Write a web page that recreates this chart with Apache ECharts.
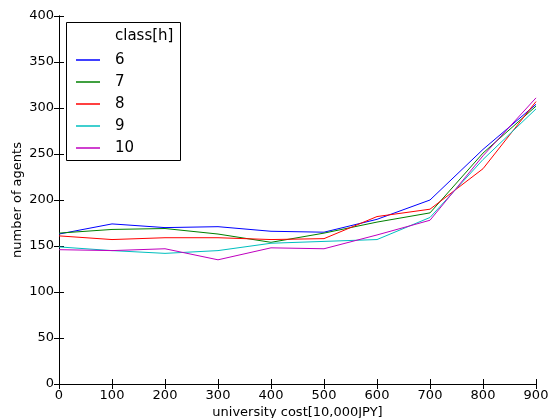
<!DOCTYPE html>
<html>
<head>
<meta charset="utf-8">
<script src="https://cdn.jsdelivr.net/npm/echarts@6/dist/echarts.min.js"></script>
<style>
  html, body { margin: 0; padding: 0; background: #fff; }
  #chart { width: 556px; height: 418px; }
</style>
</head>
<body>
<div id="chart"></div>
<script>
// University cost (10,000 JPY) on the x axis
const costs = [0, 100, 200, 300, 400, 500, 600, 700, 800, 900];
// Number of agents per class (hours)
const classNames = ['6', '7', '8', '9', '10'];
const class6  = [163, 174, 170, 171, 166, 165, 179, 200, 255, 304];
const class7  = [164, 168, 169, 163, 154, 164, 176, 186, 251, 302];
const class8  = [161, 157, 159, 159, 157, 158, 182, 190, 234, 307];
const class9  = [149, 145, 142, 145, 153, 155, 157, 181, 244, 299];
const class10 = [146, 145, 147, 135, 148, 147, 162, 178, 248, 311];
const seriesValues = [class6, class7, class8, class9, class10];
const colors = ['#0000ff', '#008000', '#ff0000', '#00bfbf', '#bf00bf'];

const font = 'DejaVu Sans';
const chart = echarts.init(document.getElementById('chart'), null, { renderer: 'canvas' });

const axisLine = { show: true, lineStyle: { color: '#000', width: 1 } };
const tickIn = { show: true, inside: true, length: 5, lineStyle: { color: '#000', width: 1 } };

function xAxis(pos, showLabels) {
  return {
    type: 'value', position: pos, min: 0, max: 900, interval: 100,
    axisLine, axisTick: tickIn, splitLine: { show: false },
    axisLabel: { show: showLabels, color: '#000', fontFamily: font, fontSize: 13, margin: 5 },
    name: showLabels ? 'university cost[10,000JPY]' : '',
    nameLocation: 'middle', nameGap: 22, nameMoveOverlap: false,
    nameTextStyle: { color: '#000', fontFamily: font, fontSize: 13 }
  };
}
function yAxis(pos, showLabels) {
  return {
    type: 'value', position: pos, min: 0, max: 400, interval: 50,
    axisLine, axisTick: tickIn, splitLine: { show: false },
    axisLabel: { show: showLabels, color: '#000', fontFamily: font, fontSize: 13, margin: 5 },
    name: showLabels ? 'number of agents' : '',
    nameLocation: 'middle', nameGap: 35, nameMoveOverlap: false,
    nameTextStyle: { color: '#000', fontFamily: font, fontSize: 13 }
  };
}

chart.setOption({
  animation: false,
  backgroundColor: '#fff',
  grid: { left: 59, right: 20, top: 16, bottom: 34, containLabel: false, outerBoundsMode: 'none' },
  xAxis: [xAxis('bottom', true), xAxis('top', false)],
  yAxis: [yAxis('left', true), yAxis('right', false)],
  legend: {
    orient: 'vertical', left: 71, top: 47,
    icon: 'rect', itemWidth: 24, itemHeight: 1.5, itemGap: 6,
    textStyle: { color: '#000', fontFamily: font, fontSize: 15, lineHeight: 16, padding: [0, 0, 0, 10] },
    data: classNames
  },
  graphic: [
    { type: 'rect', left: 66, top: 22, z: 0,
      shape: { width: 114, height: 138 },
      style: { fill: '#fff', stroke: '#000', lineWidth: 1 } },
    { type: 'text', left: 115, top: 29, z: 1,
      style: { text: 'class[h]', fill: '#000', font: '15px "DejaVu Sans"' } }
  ],
  series: classNames.map((name, i) => ({
    name, type: 'line',
    data: costs.map((c, j) => [c, seriesValues[i][j]]),
    showSymbol: false, symbol: 'none',
    lineStyle: { color: colors[i], width: 1 },
    itemStyle: { color: colors[i] },
    z: 2
  }))
});
</script>
</body>
</html>
